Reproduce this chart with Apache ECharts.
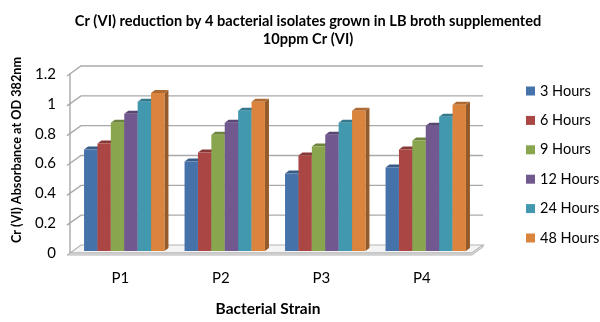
<!DOCTYPE html>
<html>
<head>
<meta charset="utf-8">
<script src="https://cdn.jsdelivr.net/npm/echarts@6/dist/echarts.min.js"></script>
<style>
  html, body { margin: 0; padding: 0; background: #fff; }
  #chart { width: 600px; height: 322px; }
</style>
</head>
<body>
<div id="chart"></div>
<script>
const categories = ["P1", "P2", "P3", "P4"];
const seriesNames = ["3 Hours", "6 Hours", "9 Hours", "12 Hours", "24 Hours", "48 Hours"];
const hours3 = [0.68, 0.60, 0.52, 0.56];
const hours6 = [0.72, 0.66, 0.64, 0.68];
const hours9 = [0.86, 0.78, 0.70, 0.74];
const hours12 = [0.92, 0.86, 0.78, 0.84];
const hours24 = [1.00, 0.94, 0.86, 0.90];
const hours48 = [1.06, 1.00, 0.94, 0.98];
const yTicks = [0, 0.2, 0.4, 0.6, 0.8, 1.0, 1.2];

const seriesValues = [hours3, hours6, hours9, hours12, hours24, hours48];
const colors = ["#4672aa", "#aa4643", "#89a54e", "#71588f", "#4198af", "#db843d"];

const FONT = "Lato, 'Open Sans', sans-serif";
// 3d look: back wall offset and bar depth
const WALL_DX = 11, WALL_DY = 8;
const BAR_W = 13.4, BAR_OX = 4, BAR_OY = -2, BAR_DX = 4, BAR_DY = 3;

function shade(hex, f) {
  const n = parseInt(hex.slice(1), 16);
  const r = Math.round(((n >> 16) & 255) * f);
  const g = Math.round(((n >> 8) & 255) * f);
  const b = Math.round((n & 255) * f);
  return "rgb(" + r + "," + g + "," + b + ")";
}

const chart = echarts.init(document.getElementById("chart"));

const wallSeries = {
  type: "custom",
  name: "walls",
  silent: true,
  clip: false,
  z: 1,
  data: yTicks.map((t) => [0, t]),
  renderItem: (params, api) => {
    const cs = params.coordSys;
    const xL = cs.x, xR = cs.x + cs.width;
    const y = api.coord([0, api.value(1)])[1];
    const children = [];
    if (api.value(1) === 0) {
      children.push({
        type: "polygon",
        shape: { points: [[xL, y], [xL + WALL_DX, y - WALL_DY], [xR + WALL_DX, y - WALL_DY], [xR, y]] },
        style: { fill: "#f4f4f4", stroke: "#b4b4b4", lineWidth: 1.2 },
      });
      children.push({
        type: "polygon",
        shape: { points: [[xL - 3, y + 2], [xL, y], [xR, y], [xR + WALL_DX, y - WALL_DY], [xR + WALL_DX, y - WALL_DY + 2], [xR, y + 2]] },
        style: { fill: "#e6e6e6", stroke: "#b4b4b4", lineWidth: 1 },
      });
      const yTop = api.coord([0, yTicks[yTicks.length - 1]])[1];
      children.push({
        type: "line",
        shape: { x1: xL, y1: yTop, x2: xL, y2: y },
        style: { stroke: "#a9a9a9", lineWidth: 1.4 },
      });
    } else {
      children.push({
        type: "polyline",
        shape: { points: [[xL - 3, y + 2], [xL + WALL_DX, y - WALL_DY], [xR + WALL_DX, y - WALL_DY]] },
        style: { fill: null, stroke: "#a9a9a9", lineWidth: 1.4 },
      });
    }
    return { type: "group", children };
  },
};

const barSeries = seriesNames.map((name, k) => ({
  type: "custom",
  name,
  clip: false,
  z: 2,
  itemStyle: { color: colors[k] },
  data: seriesValues[k].map((v, i) => [i, v]),
  renderItem: (params, api) => {
    const base = api.coord([api.value(0), 0]);
    const top = api.coord([api.value(0), api.value(1)]);
    const x0 = base[0] + BAR_OX - 3 * BAR_W + k * BAR_W;
    const yb = base[1] + BAR_OY;
    const yt = top[1] + BAR_OY;
    const x1 = x0 + BAR_W;
    return {
      type: "group",
      children: [
        {
          type: "polygon",
          shape: { points: [[x1, yt], [x1 + BAR_DX, yt - BAR_DY], [x1 + BAR_DX, yb - BAR_DY], [x1, yb]] },
          style: { fill: shade(colors[k], 0.68) },
        },
        {
          type: "polygon",
          shape: { points: [[x0, yt], [x0 + BAR_DX, yt - BAR_DY], [x1 + BAR_DX, yt - BAR_DY], [x1, yt]] },
          style: { fill: shade(colors[k], 0.8) },
        },
        {
          type: "rect",
          shape: { x: x0, y: yt, width: BAR_W, height: yb - yt },
          style: { fill: colors[k] },
        },
      ],
    };
  },
}));

chart.setOption({
  animation: false,
  title: {
    text: "Cr (VI) reduction by 4 bacterial isolates grown in LB broth supplemented\n10ppm Cr (VI)",
    left: 303,
    textAlign: "center",
    top: 7,
    textStyle: { fontFamily: FONT, fontSize: 14.6, fontWeight: "bold", color: "#000", lineHeight: 18 },
  },
  legend: {
    orient: "vertical",
    left: 521,
    top: 78,
    itemWidth: 9,
    itemHeight: 9,
    itemGap: 13.4,
    icon: "rect",
    data: seriesNames,
    textStyle: { fontFamily: FONT, fontSize: 14.5, color: "#000", lineHeight: 16 },
  },
  grid: { left: 70, right: 128, top: 74, bottom: 62 },
  xAxis: {
    type: "category",
    data: categories,
    axisLine: { show: false },
    axisTick: { show: false },
    axisLabel: { fontFamily: FONT, fontSize: 15, color: "#000", margin: 18 },
    name: "Bacterial Strain",
    nameLocation: "middle",
    nameGap: 48,
    nameTextStyle: { fontFamily: FONT, fontSize: 15.5, fontWeight: "bold", color: "#000", padding: [0, 0, 0, -6] },
  },
  yAxis: {
    type: "value",
    min: 0,
    max: 1.2,
    interval: 0.2,
    axisLine: { show: false },
    axisTick: { show: false },
    splitLine: { show: false },
    axisLabel: { fontFamily: FONT, fontSize: 15, color: "#000", margin: 14 },
  },
  graphic: [
    {
      type: "text",
      x: 17,
      y: 150,
      rotation: Math.PI / 2,
      style: {
        text: "Cr (VI) Absorbance at OD 382nm",
        textAlign: "center",
        textVerticalAlign: "middle",
        font: "bold 12.7px " + FONT,
        fill: "#000",
      },
    },
  ],
  series: [wallSeries].concat(barSeries),
});
</script>
</body>
</html>
